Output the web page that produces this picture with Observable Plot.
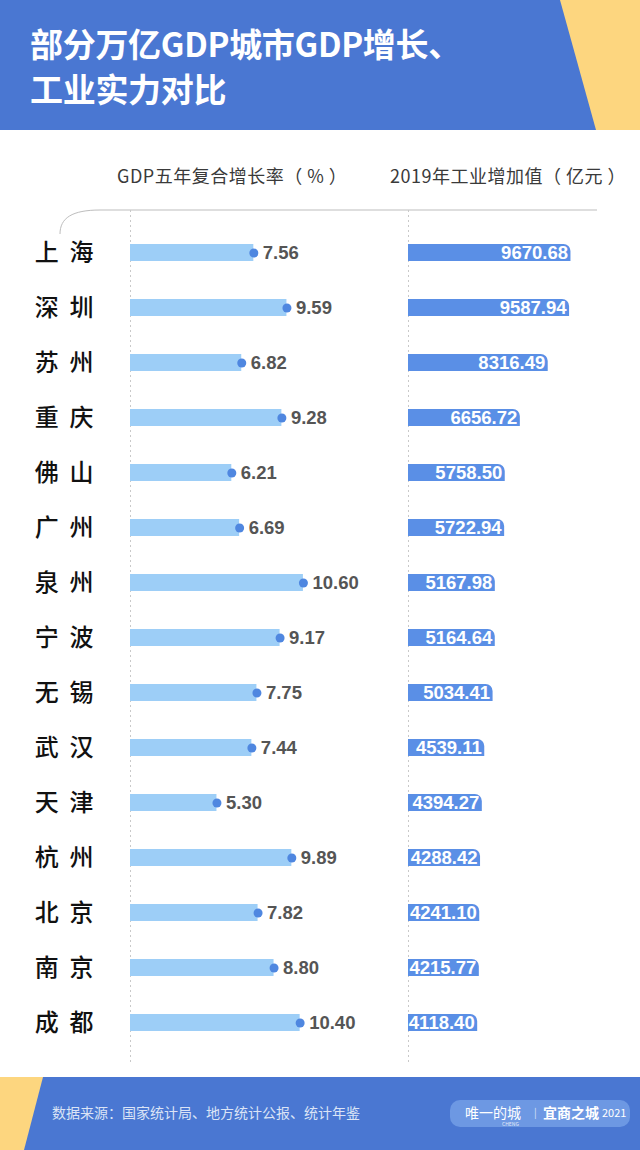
<!DOCTYPE html>
<html>
<head>
<meta charset="utf-8">
<script src="https://cdn.jsdelivr.net/npm/d3@7"></script>
<script src="https://cdn.jsdelivr.net/npm/@observablehq/plot@0.6"></script>
<style>
  html, body { margin: 0; padding: 0; background: #fff; }
  body { width: 640px; height: 1150px; overflow: hidden; font-family: "Noto Sans CJK SC", "Noto Sans", sans-serif; }
  #header { position: relative; height: 130px; background: #4a77d2; overflow: hidden; }
  #header .yellow { position: absolute; top: 0; left: 0; width: 640px; height: 130px; background: #fdd67f;
    clip-path: polygon(560px 0, 640px 0, 640px 130px, 596px 130px); }
  #title { position: absolute; left: 30px; top: 21px; color: #fff; font-size: 33px; font-weight: bold; line-height: 45px; letter-spacing: -0.3px; }
  #chart { position: relative; height: 947px; }
  .colhead { position: absolute; top: 32px; font-size: 18px; letter-spacing: 0.5px; color: #3a3a3a; white-space: nowrap; }
  #footer { position: relative; height: 73px; background: #4a77d2; overflow: hidden; }
  #footer .yellow { position: absolute; top: 0; left: 0; width: 60px; height: 73px; background: #fdd67f;
    clip-path: polygon(0 0, 43px 0, 24px 73px, 0 73px); }
  #source { position: absolute; left: 52px; top: 25px; font-size: 14px; color: #dbe4f6; }
  #logo { position: absolute; left: 450px; top: 23px; width: 180px; height: 27px; border-radius: 10px; background: #6d98e3;
    color: #fff; font-size: 14px; white-space: nowrap; }
  #logo span { position: absolute; top: 4px; line-height: 16px; }
</style>
</head>
<body>
<div id="header">
  <div class="yellow"></div>
  <div id="title">部分万亿GDP城市GDP增长、<br>工业实力对比</div>
</div>
<div id="chart">
  <div class="colhead" style="left:117px">GDP五年复合增长率（ % ）</div>
  <div class="colhead" style="left:390px">2019年工业增加值（ 亿元 ）</div>
  <svg width="640" height="120" style="position:absolute;left:0;top:0">
    <path d="M60,104 C60,88 72,80 100,80 L597,80" fill="none" stroke="#bdbdbd" stroke-width="1"/>
  </svg>
</div>
<div id="footer">
  <div class="yellow"></div>
  <div id="source">数据来源：国家统计局、地方统计公报、统计年鉴</div>
  <div id="logo">
    <span style="left:15px">唯一的城</span>
    <span style="left:52px;top:21px;font-size:5px;line-height:5px;opacity:0.8">CHENG</span>
    <span style="left:84px;font-size:10px;opacity:0.7">|</span>
    <span style="left:93px;font-weight:bold">宜商之城</span>
    <span style="left:152px;font-size:11px">2021</span>
  </div>
</div>
<script>
const cities = ["上海", "深圳", "苏州", "重庆", "佛山", "广州", "泉州", "宁波", "无锡", "武汉", "天津", "杭州", "北京", "南京", "成都"];
const gdpGrowth = [7.56, 9.59, 6.82, 9.28, 6.21, 6.69, 10.60, 9.17, 7.75, 7.44, 5.30, 9.89, 7.82, 8.80, 10.40];
const industryValue = [9670.68, 9587.94, 8316.49, 6656.72, 5758.50, 5722.94, 5167.98, 5164.64, 5034.41, 4539.11, 4394.27, 4288.42, 4241.10, 4215.77, 4118.40];

const data = cities.map((c, i) => ({city: c, growth: gdpGrowth[i], industry: industryValue[i]}));
const numFont = "'Liberation Sans', Arial, sans-serif";

const common = {
  width: 640, height: 947, marginTop: 92, marginBottom: 24,
  y: {domain: cities, type: "band", padding: 0, axis: null},
  style: {background: "transparent", overflow: "visible"}
};

const left = Plot.plot({
  ...common,
  marginLeft: 130, marginRight: 249,
  x: {domain: [0, 16], axis: null},
  marks: [
    Plot.ruleX([0], {stroke: "#c9c9c9", strokeDasharray: "2,3", insetTop: -12, insetBottom: -11}),
    Plot.barX(data, {x: "growth", y: "city", fill: "#9dcef7", insetTop: 19, insetBottom: 19}),
    Plot.dot(data, {x: "growth", y: "city", r: 4.5, fill: "#4f87e0"}),
    Plot.text(data, {x: "growth", y: "city", text: d => d.growth.toFixed(2), dx: 9, textAnchor: "start",
      fill: "#555", fontSize: 18.5, fontWeight: "bold", fontFamily: numFont}),
    Plot.text(data, {y: "city", text: d => d.city[0] + "  " + d.city[1], frameAnchor: "left", textAnchor: "end",
      dx: -37, fill: "#111", fontSize: 24, fontWeight: 500, fontFamily: "'Noto Sans CJK SC', sans-serif"})
  ]
});

const right = Plot.plot({
  ...common,
  marginLeft: 408, marginRight: 64,
  x: {domain: [0, 10000], axis: null},
  marks: [
    Plot.ruleX([0], {stroke: "#c9c9c9", strokeDasharray: "2,3", insetTop: -12, insetBottom: -11}),
    Plot.barX(data, {x: "industry", y: "city", fill: "#5a8fe6", insetTop: 19, insetBottom: 19, rx2y1: 7}),
    Plot.text(data, {x: "industry", y: "city", text: d => d.industry.toFixed(2), dx: -3, textAnchor: "end",
      fill: "#fff", fontSize: 18.5, fontWeight: "bold", fontFamily: numFont})
  ]
});

const chart = document.getElementById("chart");
for (const svg of [left, right]) {
  svg.style.position = "absolute";
  svg.style.left = "0px";
  svg.style.top = "0px";
  chart.appendChild(svg);
}
</script>
</body>
</html>
